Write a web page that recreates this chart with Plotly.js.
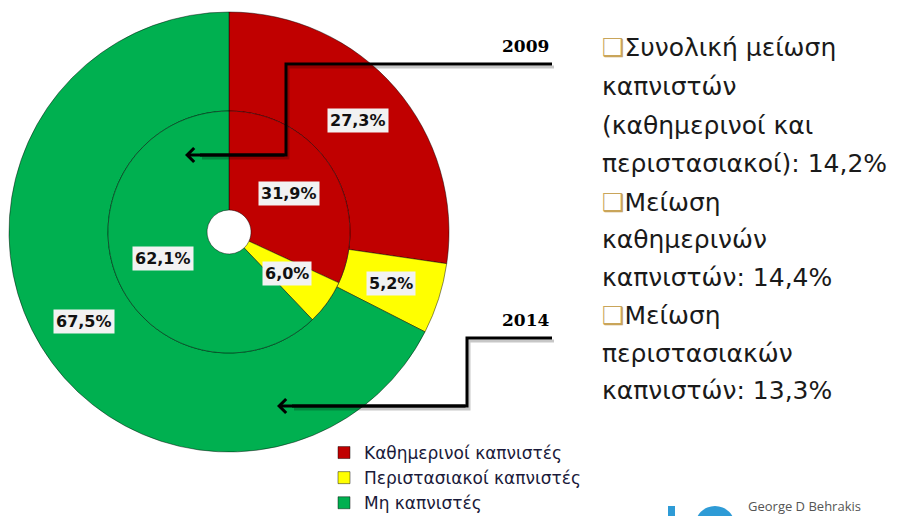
<!DOCTYPE html>
<html>
<head>
<meta charset="utf-8">
<script src="https://cdn.plot.ly/plotly-3.0.1.min.js"></script>
<style>html,body{margin:0;padding:0;background:#fff;}#chart{width:898px;height:516px;}</style>
</head>
<body>
<div id="chart"></div>
<script>
// ---- data ----
const categories = ['Καθημερινοί καπνιστές', 'Περιστασιακοί καπνιστές', 'Μη καπνιστές'];
const values2009 = [31.9, 6.0, 62.1];   // inner ring
const values2014 = [27.3, 5.2, 67.5];   // outer ring
const yearLabels = ['2009', '2014'];
const noteLines = [
  '❑Συνολική μείωση',
  'καπνιστών',
  '(καθημερινοί και',
  'περιστασιακοί): 14,2%',
  '❑Μείωση',
  'καθημερινών',
  'καπνιστών: 14,4%',
  '❑Μείωση',
  'περιστασιακών',
  'καπνιστών: 13,3%'
];
const footerText = 'George D Behrakis';

// ---- style / geometry ----
const W = 898, H = 516;
const colors = ['#C00000', '#FFFF00', '#00B050'];
const cx = 229, cy = 232, rOuter = 220, rMid = 121, rHole = 22;
const px = x => x / W;
const py = y => 1 - y / H;

function domainFor(r) {
  return { x: [px(cx - r), px(cx + r)], y: [py(cy + r), py(cy - r)] };
}

const sliceLine = { color: 'rgba(0,0,0,0.45)', width: 1 };

const outer = {
  type: 'pie', labels: categories, values: values2014,
  hole: rMid / rOuter, domain: domainFor(rOuter),
  sort: false, direction: 'clockwise', rotation: 0,
  marker: { colors: colors, line: sliceLine },
  textinfo: 'none', hoverinfo: 'label+value', showlegend: true
};
const inner = {
  type: 'pie', labels: categories, values: values2009,
  hole: rHole / rMid, domain: domainFor(rMid),
  sort: false, direction: 'clockwise', rotation: 0,
  marker: { colors: colors, line: sliceLine },
  textinfo: 'none', hoverinfo: 'label+value', showlegend: false
};

// value labels, positioned at each slice's mid angle / mid radius
function sliceLabels(values, rIn, rOut) {
  const total = values.reduce((a, b) => a + b, 0);
  let cum = 0;
  const r = (rIn + rOut) / 2;
  return values.map(v => {
    const mid = (cum + v / 2) / total * 2 * Math.PI;
    cum += v;
    return {
      x: px(cx + r * Math.sin(mid)), y: py(cy - r * Math.cos(mid)),
      xref: 'paper', yref: 'paper', xanchor: 'center', yanchor: 'middle', showarrow: false,
      text: v.toFixed(1).replace('.', ',') + '%',
      font: { family: 'DejaVu Sans', size: 16, color: '#111', weight: 'bold' },
      bgcolor: '#F2F2F2', borderpad: 2
    };
  });
}

const annotations = []
  .concat(sliceLabels(values2014, rMid, rOuter))
  .concat(sliceLabels(values2009, rHole, rMid));

// year captions
const yearY = [46, 320];
yearLabels.forEach((t, i) => annotations.push({
  x: px(551), y: py(yearY[i]), xref: 'paper', yref: 'paper', xanchor: 'right', yanchor: 'middle',
  showarrow: false, text: t,
  font: { family: 'DejaVu Serif', size: 17, color: '#000', weight: 'bold' }
}));

// arrow heads (last leg of each connector)
const arrowLegs = [
  { tip: [185, 155], from: [286, 155] },
  { tip: [277, 406], from: [467, 406] }
];
arrowLegs.forEach(a => annotations.push({
  x: px(a.tip[0]), y: py(a.tip[1]), xref: 'paper', yref: 'paper',
  ax: a.from[0] - a.tip[0], ay: a.from[1] - a.tip[1], axref: 'pixel', ayref: 'pixel',
  text: '', showarrow: true, arrowhead: 4, arrowsize: 0.9, arrowwidth: 3, arrowcolor: '#000', standoff: 0
}));

// right-hand notes
const noteY = [48, 87, 125, 163, 202, 240, 277, 315, 353, 390];
noteLines.forEach((t, i) => annotations.push({
  x: px(600), y: py(noteY[i]), xref: 'paper', yref: 'paper', xanchor: 'left', yanchor: 'middle',
  showarrow: false,
  text: t.replace('❑', '<span style="color:#C9A55A;font-weight:bold">❑</span>'),
  font: { family: 'DejaVu Sans', size: 25, color: '#1a1a1a' }
}));

// footer
annotations.push({
  x: px(746), y: py(506), xref: 'paper', yref: 'paper', xanchor: 'left', yanchor: 'middle',
  showarrow: false, text: footerText,
  font: { family: 'Open Sans', size: 13, color: '#555' }
});

// connector polylines
function pathFrom(points, dx, dy) {
  return points.map((p, i) => (i ? 'L' : 'M') + px(p[0] + dx) + ',' + py(p[1] + dy)).join(' ');
}
const connectors = [
  [[552, 64], [286, 64], [286, 155], [200, 155]],
  [[552, 338], [467, 338], [467, 406], [292, 406]]
];
const shapes = [];
connectors.forEach(pts => shapes.push({
  type: 'path', xref: 'paper', yref: 'paper', path: pathFrom(pts, 2, 3),
  line: { color: 'rgba(0,0,0,0.22)', width: 3 }
}));
connectors.forEach(pts => shapes.push({
  type: 'path', xref: 'paper', yref: 'paper', path: pathFrom(pts, 0, 0),
  line: { color: '#000', width: 3 }
}));
// logo fragments
shapes.push({ type: 'rect', xref: 'paper', yref: 'paper', x0: px(668), x1: px(675), y0: py(520), y1: py(506), fillcolor: '#2E9BD6', line: { width: 0 } });
shapes.push({ type: 'circle', xref: 'paper', yref: 'paper', x0: px(695), x1: px(735), y0: py(546), y1: py(506), fillcolor: '#2E9BD6', line: { width: 0 } });

const layout = {
  width: W, height: H,
  margin: { l: 0, r: 0, t: 0, b: 0, autoexpand: false },
  paper_bgcolor: '#fff', plot_bgcolor: '#fff',
  showlegend: true,
  legend: {
    x: px(324), y: py(435), xanchor: 'left', yanchor: 'top',
    font: { family: 'DejaVu Sans', size: 17, color: '#1a1a3a' },
    bgcolor: 'rgba(0,0,0,0)', tracegroupgap: 0, itemwidth: 30
  },
  annotations: annotations,
  shapes: shapes
};

Plotly.newPlot('chart', [outer, inner], layout, { displayModeBar: false, staticPlot: true });
</script>
</body>
</html>
